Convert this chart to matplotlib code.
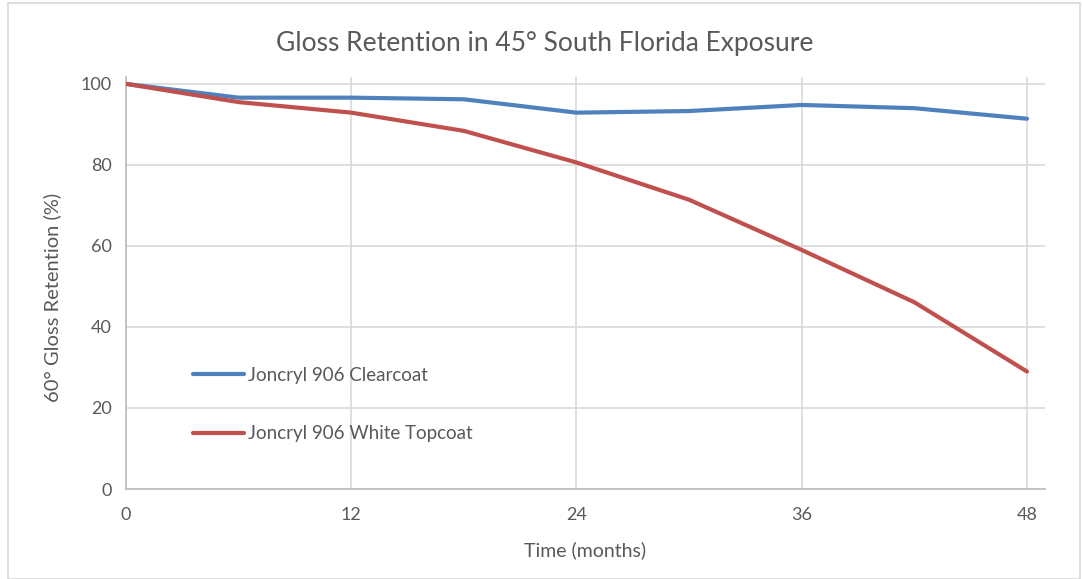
import matplotlib
matplotlib.use("Agg")
import matplotlib.pyplot as plt
from matplotlib.patches import Rectangle

months = [0, 6, 12, 18, 24, 30, 36, 42, 48]
clearcoat = [100, 96.6, 96.6, 96.2, 92.9, 93.3, 94.8, 94.0, 91.4]
white_topcoat = [100, 95.5, 92.9, 88.4, 80.6, 71.4, 59.0, 46.1, 29.0]
series_labels = ["Joncryl 906 Clearcoat", "Joncryl 906 White Topcoat"]
x_ticks = [0, 12, 24, 36, 48]
y_ticks = [0, 20, 40, 60, 80, 100]

plt.rcParams['font.family'] = ['Lato', 'DejaVu Sans']
text_color = '#595959'

fig = plt.figure(figsize=(10.82, 5.79), dpi=100)
ax = fig.add_axes([126/1082, 1-489/579, 919/1082, 412/579])

ax.plot(months, clearcoat, color='#4F81BD', lw=3, label=series_labels[0], solid_capstyle='round', zorder=3)
ax.plot(months, white_topcoat, color='#C0504D', lw=3, label=series_labels[1], solid_capstyle='round', zorder=3)

ax.set_xlim(0, 48.96)
ax.set_ylim(0, 101.7)
ax.set_xticks(x_ticks)
ax.set_yticks(y_ticks)
ax.grid(True, color='#d9d9d9', lw=1.2, zorder=0)
ax.tick_params(length=0, labelsize=13, colors=text_color, pad=10)
ax.tick_params(axis='x', pad=13)
for s in ['top', 'right']:
    ax.spines[s].set_visible(False)
for s in ['left', 'bottom']:
    ax.spines[s].set_color('#bfbfbf')
    ax.spines[s].set_linewidth(1.3)

fig.text(545/1082, 1-44/579, "Gloss Retention in 45° South Florida Exposure",
         ha='center', va='center', fontsize=19, color=text_color)
fig.text(585/1082, 1-550/579, "Time (months)", ha='center', va='center',
         fontsize=14, color=text_color)
fig.text(52/1082, 1-297/579, "60° Gloss Retention (%)", ha='center', va='center',
         rotation=90, fontsize=14.5, color=text_color)

leg = ax.legend(loc='upper left', bbox_to_anchor=(50/919, (489-350)/412), frameon=False,
                fontsize=13.5, labelspacing=2.2, handlelength=2.7, handletextpad=0.22)
for t in leg.get_texts():
    t.set_color(text_color)

fig.patches.append(Rectangle((8/1082, 0), 1072/1082, 1-3/579, transform=fig.transFigure,
                             fill=False, edgecolor='#d9d9d9', lw=1.2))

fig.savefig("out.png", dpi=100)
